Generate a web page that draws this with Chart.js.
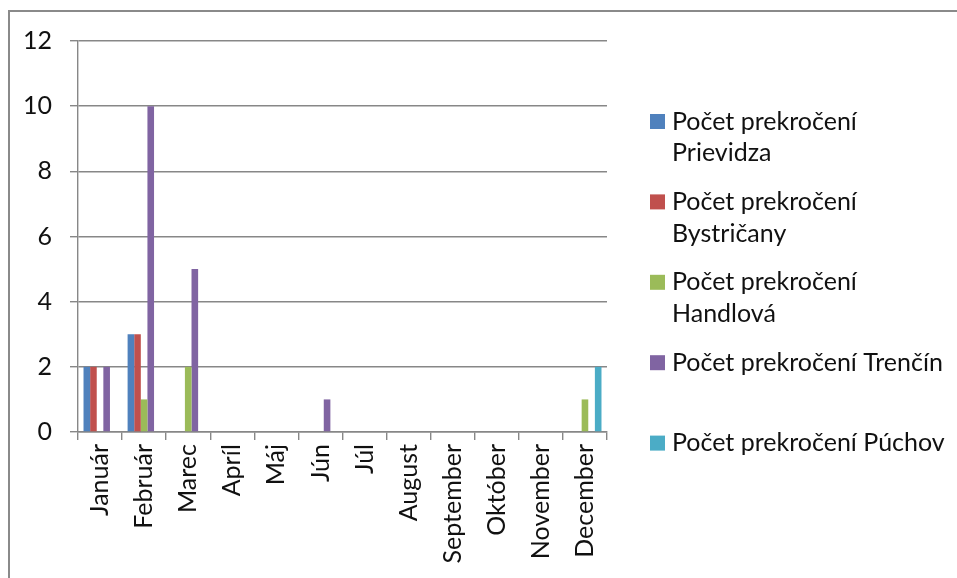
<!DOCTYPE html>
<html>
<head>
<meta charset="utf-8">
<script src="https://cdn.jsdelivr.net/npm/chart.js@4.4.1/dist/chart.umd.min.js"></script>
<style>
  html, body { margin: 0; padding: 0; background: #fff; overflow: hidden; }
</style>
</head>
<body>
<canvas id="chart" width="957" height="578"></canvas>
<script>
// Monthly counts of limit exceedances per monitoring station
const months = ['Január', 'Február', 'Marec', 'Apríl', 'Máj', 'Jún', 'Júl', 'August', 'September', 'Október', 'November', 'December'];
const prievidza  = [2, 3, 0, 0, 0, 0, 0, 0, 0, 0, 0, 0];
const bystricany = [2, 3, 0, 0, 0, 0, 0, 0, 0, 0, 0, 0];
const handlova   = [0, 1, 2, 0, 0, 0, 0, 0, 0, 0, 0, 1];
const trencin    = [2, 10, 5, 0, 0, 1, 0, 0, 0, 0, 0, 0];
const puchov     = [0, 0, 0, 0, 0, 0, 0, 0, 0, 0, 0, 2];
const seriesNames = [
  'Počet prekročení Prievidza',
  'Počet prekročení Bystričany',
  'Počet prekročení Handlová',
  'Počet prekročení Trenčín',
  'Počet prekročení Púchov'
];
const yMin = 0, yMax = 12, yStep = 2;

const seriesValues = [prievidza, bystricany, handlova, trencin, puchov];
const seriesColors = ['#4F81BD', '#C0504D', '#9BBB59', '#8064A2', '#4BACC6'];

const FONT = 'Lato, "Liberation Sans", sans-serif';
const FONT_SIZE = 25;
const GRID = '#878787';

// Outer frame and the wrapped legend on the right
const framePlugin = {
  id: 'frame',
  beforeDraw(chart) {
    const ctx = chart.ctx;
    ctx.save();
    ctx.fillStyle = '#ffffff';
    ctx.fillRect(0, 0, chart.width, chart.height);
    ctx.strokeStyle = '#8a8a8a';
    ctx.lineWidth = 2;
    ctx.beginPath();
    ctx.moveTo(9, chart.height);
    ctx.lineTo(9, 11);
    ctx.lineTo(chart.width, 11);
    ctx.stroke();
    ctx.restore();
  }
};

const sideLegend = {
  id: 'sideLegend',
  afterDraw(chart) {
    const ctx = chart.ctx;
    ctx.save();
    ctx.font = FONT_SIZE + 'px ' + FONT;
    ctx.textBaseline = 'middle';
    ctx.textAlign = 'left';
    const boxX = 650, textX = 672, maxW = 280;
    const firstY = 121.5, slot = 80.4, lineH = 31.7;
    chart.data.datasets.forEach((ds, i) => {
      const cy = firstY + i * slot;
      ctx.fillStyle = ds.backgroundColor;
      ctx.fillRect(boxX, cy - 7.5, 15, 15);
      // word wrap
      const words = ds.label.split(' ');
      const lines = [];
      let cur = '';
      words.forEach(w => {
        const t = cur ? cur + ' ' + w : w;
        if (ctx.measureText(t).width > maxW && cur) { lines.push(cur); cur = w; }
        else cur = t;
      });
      if (cur) lines.push(cur);
      ctx.fillStyle = '#111111';
      lines.forEach((ln, j) => ctx.fillText(ln, textX, cy + j * lineH));
    });
    ctx.restore();
  }
};

new Chart(document.getElementById('chart'), {
  type: 'bar',
  data: {
    labels: months,
    datasets: seriesValues.map((vals, i) => ({
      label: seriesNames[i],
      data: vals,
      backgroundColor: seriesColors[i],
      borderWidth: 0,
      categoryPercentage: 0.75,
      barPercentage: 1.0
    }))
  },
  options: {
    responsive: false,
    devicePixelRatio: 1,
    animation: false,
    layout: { padding: { top: 41, right: 350, left: 0, bottom: 0 } },
    plugins: {
      legend: { display: false },
      tooltip: { enabled: false }
    },
    scales: {
      x: {
        grid: { drawOnChartArea: false, drawTicks: true, tickLength: 8, color: GRID, lineWidth: 1.4 },
        border: { color: GRID, width: 1.4 },
        ticks: {
          minRotation: 90, maxRotation: 90, autoSkip: false, padding: 4,
          color: '#111111', font: { family: FONT, size: FONT_SIZE }
        },
        afterFit(scale) { scale.height = 146; }
      },
      y: {
        min: yMin, max: yMax,
        grid: { color: GRID, lineWidth: 1.4, tickLength: 8 },
        border: { color: GRID, width: 1.4 },
        ticks: {
          stepSize: yStep, padding: 18,
          color: '#111111', font: { family: FONT, size: FONT_SIZE }
        },
        afterFit(scale) { scale.width = 78; }
      }
    }
  },
  plugins: [framePlugin, sideLegend]
});
</script>
</body>
</html>
